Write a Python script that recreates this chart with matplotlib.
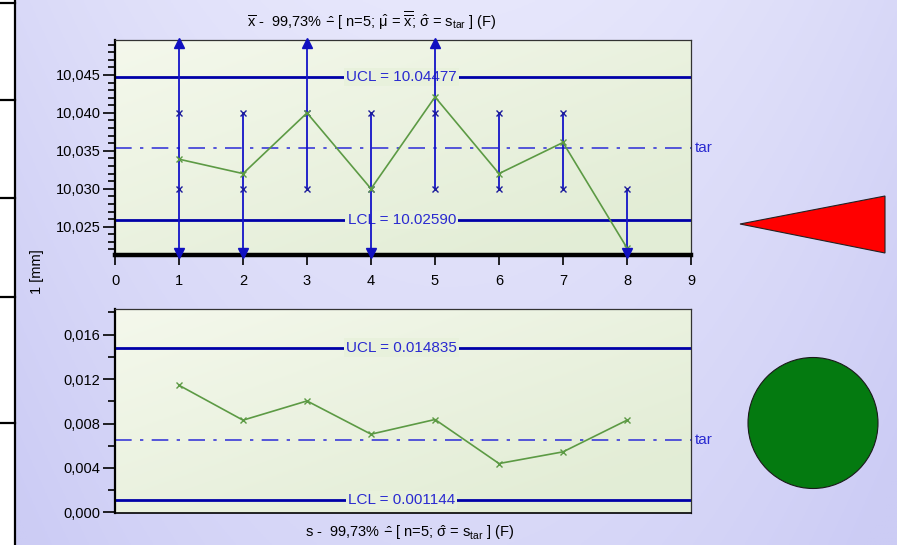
import numpy as np
import matplotlib
matplotlib.use('Agg')
import matplotlib.pyplot as plt
from matplotlib.patches import Polygon, Ellipse, Rectangle
from matplotlib.lines import Line2D
from matplotlib.ticker import MultipleLocator, FuncFormatter

plt.rcParams['font.family'] = ['Liberation Sans', 'DejaVu Sans']
plt.rcParams['mathtext.fontset'] = 'custom'
plt.rcParams['mathtext.rm'] = 'Liberation Sans'
plt.rcParams['mathtext.it'] = 'Liberation Sans'
plt.rcParams['mathtext.bf'] = 'Liberation Sans:bold'

# subgroups (n=5 each)
subgroups = [1, 2, 3, 4, 5, 6, 7, 8]
xbar = [10.0339, 10.0320, 10.0400, 10.0300, 10.0421, 10.0320, 10.0361, 10.0222]
x_max = [10.060, 10.040, 10.060, 10.040, 10.060, 10.040, 10.040, 10.030]
x_min = [10.010, 10.010, 10.030, 10.010, 10.030, 10.030, 10.030, 10.010]
x_hi = [10.040, 10.040, 10.040, 10.040, 10.040, 10.040, 10.040, np.nan]
x_lo = [10.030, 10.030, 10.030, 10.030, 10.030, 10.030, 10.030, 10.030]
s_vals = [0.01144, 0.00830, 0.01003, 0.00704, 0.00836, 0.00440, 0.00545, 0.00830]

xbar_ucl, xbar_lcl, xbar_tar = 10.04477, 10.02590, 10.03533
s_ucl, s_lcl, s_tar = 0.014835, 0.001144, 0.0065

W, H = 897, 545
fig = plt.figure(figsize=(W / 100, H / 100), dpi=100)
FS = 10.5

# lavender page background
bg = fig.add_axes([0, 0, 1, 1], zorder=-10)
gx, gy = np.meshgrid(np.linspace(0, 1, 300), np.linspace(0, 1, 200))
t = 0.35 + 0.35 * ((gx - 0.5) / 0.5) ** 2 + 0.35 * gy
t = np.clip(t, 0, 1)
white = np.array([0.96, 0.96, 1.0])
lav = np.array([0.80, 0.80, 0.96])
img = white * (1 - t[..., None]) + lav * t[..., None]
bg.imshow(img, extent=[0, 1, 0, 1], aspect='auto', origin='upper')
bg.set_xlim(0, 1)
bg.set_ylim(0, 1)
bg.axis('off')

# white table strip at the left edge
fig.add_artist(Rectangle((0, 0), 15 / W, 1, transform=fig.transFigure,
                         facecolor='white', edgecolor='none', zorder=-5))
fig.add_artist(Line2D([15 / W, 15 / W], [0, 1], transform=fig.transFigure,
                      color='black', lw=1.6))
for yy in [3, 100, 198, 297, 423]:
    fig.add_artist(Line2D([0, 15 / W], [1 - yy / H, 1 - yy / H],
                          transform=fig.transFigure, color='black', lw=1.6))

line_blue = '#0000a8'
text_blue = '#2a2ad0'
ax_bg = '#e8f1dc'
green = '#5c9a44'


def comma_fmt(nd):
    return FuncFormatter(lambda v, p: f'{v:.{nd}f}'.replace('.', ','))


def panel_bg(ax):
    gx, gy = np.meshgrid(np.linspace(0, 1, 200), np.linspace(0, 1, 100))
    k = np.clip(0.5 * (1 - gx) + 0.5 * gy - 0.15, 0, 1)
    base = np.array([0.89, 0.93, 0.84])
    light = np.array([0.97, 0.98, 0.94])
    im = base * (1 - k[..., None]) + light * k[..., None]
    ax.imshow(im, extent=[0, 1, 0, 1], transform=ax.transAxes,
              aspect='auto', origin='lower', zorder=0)


def limit_line(ax, y, label):
    ax.axhline(y, color=line_blue, lw=2.0, zorder=2)
    ax.text(4.48, y, label, ha='center', va='center', fontsize=FS + 0.5,
            color=text_blue, zorder=3,
            bbox=dict(facecolor=ax_bg, edgecolor='none', pad=1.5))


def target_line(ax, y):
    ln, = ax.plot([0, 9], [y, y], color='#3a3ad8', lw=1.2, zorder=2)
    ln.set_dashes([10, 5, 2, 5])
    ax.text(1.006, y, 'tar', transform=ax.get_yaxis_transform(),
            ha='left', va='center', fontsize=FS + 0.5, color=text_blue)


def style_axes(ax):
    ax.set_facecolor(ax_bg)
    ax.spines['left'].set_linewidth(1.6)
    ax.spines['top'].set_linewidth(0.9)
    ax.spines['right'].set_linewidth(0.9)
    ax.spines['top'].set_color('#333333')
    ax.spines['right'].set_color('#333333')
    ax.tick_params(axis='y', which='major', length=8.5, width=1.2,
                   labelsize=FS, pad=2, direction='out')
    ax.tick_params(axis='y', which='minor', length=5, width=1.2,
                   direction='out')


# x-bar chart
ax1 = fig.add_axes([115 / W, 1 - 255 / H, 576 / W, 215 / H])
style_axes(ax1)
panel_bg(ax1)
ax1.set_xlim(0, 9)
y_lo, y_hi = 10.02127, 10.04961
ax1.set_ylim(y_lo, y_hi)
ax1.yaxis.set_major_locator(MultipleLocator(0.005))
ax1.yaxis.set_minor_locator(MultipleLocator(0.001))
ax1.yaxis.set_major_formatter(comma_fmt(3))
ax1.xaxis.set_major_locator(MultipleLocator(1))
ax1.tick_params(axis='x', length=7, width=1.2, labelsize=FS, pad=7)
ax1.spines['bottom'].set_linewidth(3.2)

limit_line(ax1, xbar_ucl, 'UCL = 10.04477')
limit_line(ax1, xbar_lcl, 'LCL = 10.02590')
target_line(ax1, xbar_tar)

# range of each subgroup, with arrows where it leaves the chart
ax1.vlines(subgroups, x_min, x_max, color='#1414c8', lw=1.3, zorder=4)
ax1.plot(subgroups, x_hi, 'x', color='#1c1c9c', ms=5, mew=1.0, zorder=5)
ax1.plot(subgroups, x_lo, 'x', color='#1c1c9c', ms=5, mew=1.0, zorder=5)
for xi, hi, lo in zip(subgroups, x_max, x_min):
    if hi > y_hi:
        ax1.plot(xi, y_hi - 0.0004, '^', color='#1010c0', ms=6.5,
                 clip_on=False, zorder=6)
    if lo < y_lo:
        ax1.plot(xi, y_lo + 0.0002, 'v', color='#1010c0', ms=6.5,
                 clip_on=False, zorder=6)
ax1.plot(subgroups, xbar, '-x', color=green, lw=1.2, ms=5, mew=1.0, zorder=5)

# s chart
ax2 = fig.add_axes([115 / W, 1 - 513 / H, 576 / W, 204 / H])
style_axes(ax2)
panel_bg(ax2)
ax2.set_xlim(0, 9)
ax2.set_ylim(-0.00005, 0.0183)
ax2.yaxis.set_major_locator(MultipleLocator(0.004))
ax2.yaxis.set_minor_locator(MultipleLocator(0.002))
ax2.yaxis.set_major_formatter(comma_fmt(3))
ax2.set_xticks([])
ax2.spines['bottom'].set_linewidth(1.2)

limit_line(ax2, s_ucl, 'UCL = 0.014835')
limit_line(ax2, s_lcl, 'LCL = 0.001144')
target_line(ax2, s_tar)
ax2.plot(subgroups, s_vals, '-x', color=green, lw=1.2, ms=5, mew=1.0, zorder=5)

# titles and axis label
fig.text(372 / W, 1 - 21 / H,
         r'$\overline{\mathrm{x}}$ -  99,73% $\hat{-}$ [ n=5; $\hat{\mathrm{\mu}}$ = '
         r'$\overline{\overline{\mathrm{x}}}$; $\hat{\mathrm{\sigma}}$ = s$_{\mathrm{tar}}$ ] (F)',
         ha='center', va='center', fontsize=FS)
fig.text(410 / W, 1 - 533 / H,
         r's -  99,73% $\hat{-}$ [ n=5; $\hat{\mathrm{\sigma}}$ = s$_{\mathrm{tar}}$ ] (F)',
         ha='center', va='center', fontsize=FS)
fig.text(37 / W, 1 - 272 / H, '1 [mm]', rotation=90, ha='center',
         va='center', fontsize=FS)

# status signs: red warning wedge and green light
tri = np.array([[740, 224], [885, 196], [885, 253]], dtype=float)
tri[:, 0] /= W
tri[:, 1] = 1 - tri[:, 1] / H
fig.add_artist(Polygon(tri, closed=True, transform=fig.transFigure,
                       facecolor='#ff0000', edgecolor='#222222', lw=0.8))
fig.add_artist(Ellipse((813 / W, 1 - 423 / H), 130 / W, 131 / H,
                       transform=fig.transFigure, facecolor='#047a10',
                       edgecolor='#1a1a1a', lw=0.8))

fig.savefig('out.png', dpi=100)
